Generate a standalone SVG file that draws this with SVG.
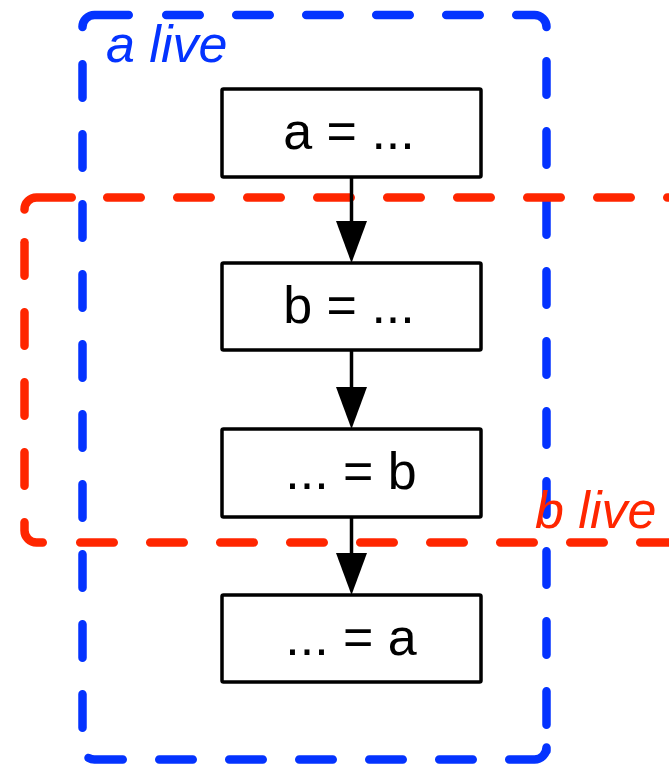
<svg xmlns="http://www.w3.org/2000/svg" width="669" height="764" viewBox="0 0 669 764">
  <style>
    .region path { fill: none; stroke-width: 8.5; stroke-linecap: round; stroke-linejoin: round; }
    .region path.dash { stroke-dasharray: 33.5 36.5; }
    #a-live path { stroke: #0433FF; }
    #b-live path { stroke: #FF2600; }
    .label { font-family: "Liberation Sans", Arial, Helvetica, sans-serif; font-style: italic; font-size: 52px; }
    .box rect { fill: #FFFFFF; stroke: #000000; stroke-width: 3.5; }
    .box text { font-family: "Liberation Sans", Arial, Helvetica, sans-serif; font-size: 52px; fill: #000000; text-anchor: middle; }
    .edge { stroke: #000000; stroke-width: 3.5; fill: none; marker-end: url(#head); }
  </style>
  <defs>
    <marker id="head" markerUnits="userSpaceOnUse" markerWidth="42" markerHeight="31" viewBox="0 0 42 31" refX="24" refY="15.5" orient="auto">
      <path d="M0,0 L42,15.5 L0,31 Z" fill="#000000"/>
    </marker>
  </defs>

  <!-- live range of a: dashed rounded frame, corners drawn as long dashes -->
  <g id="a-live" class="region">
    <path d="M82.5,26 L82.5,27 A12,12 0 0 1 94.5,15 L128.75,15"/>
    <path class="dash" d="M166.25,15 L479.75,15"/>
    <path d="M516.25,15 L534.5,15 A12,12 0 0 1 546.5,27"/>
    <path class="dash" d="M546.5,61.25 L546.5,724.75"/>
    <path d="M546.5,751 L546.5,747.5 A12,12 0 0 1 534.5,759.5 L509.25,759.5"/>
    <path class="dash" d="M159.25,759.5 L472.75,759.5"/>
    <path d="M88.5,757.9 A12,12 0 0 0 94.5,759.5 L122.75,759.5"/>
    <path class="dash" d="M82.5,64.25 L82.5,727.75"/>
    <text class="label" x="106" y="62" fill="#0433FF">a live</text>
  </g>

  <!-- live range of b: open on the right, runs off the edge -->
  <g id="b-live" class="region">
    <path d="M24.5,209.5 A12,12 0 0 1 36.5,197.5 L71.75,197.5"/>
    <path class="dash" d="M107.25,197.5 L700,197.5"/>
    <path class="dash" d="M24.5,242.25 L24.5,485.75"/>
    <path d="M24.5,522.25 L24.5,530.5 A12,12 0 0 0 36.5,542.5 L42.75,542.5"/>
    <path class="dash" d="M80.25,542.5 L700,542.5"/>
    <text class="label" x="535" y="528" fill="#FF2600">b live</text>
  </g>

  <!-- statements -->
  <g id="def-a" class="box">
    <rect x="222" y="89" width="259" height="88" rx="1.5"/>
    <text x="349" y="149">a = ...</text>
  </g>
  <g id="def-b" class="box">
    <rect x="222" y="263" width="259" height="87" rx="1.5"/>
    <text x="349" y="323">b = ...</text>
  </g>
  <g id="use-b" class="box">
    <rect x="222" y="429" width="259" height="88" rx="1.5"/>
    <text x="351" y="489">... = b</text>
  </g>
  <g id="use-a" class="box">
    <rect x="222" y="595" width="259" height="87" rx="1.5"/>
    <text x="351" y="655">... = a</text>
  </g>

  <!-- control flow -->
  <g id="edges">
    <line class="edge" x1="351.5" y1="177" x2="351.5" y2="245"/>
    <line class="edge" x1="351.5" y1="350" x2="351.5" y2="411"/>
    <line class="edge" x1="351.5" y1="517" x2="351.5" y2="577"/>
  </g>
</svg>
